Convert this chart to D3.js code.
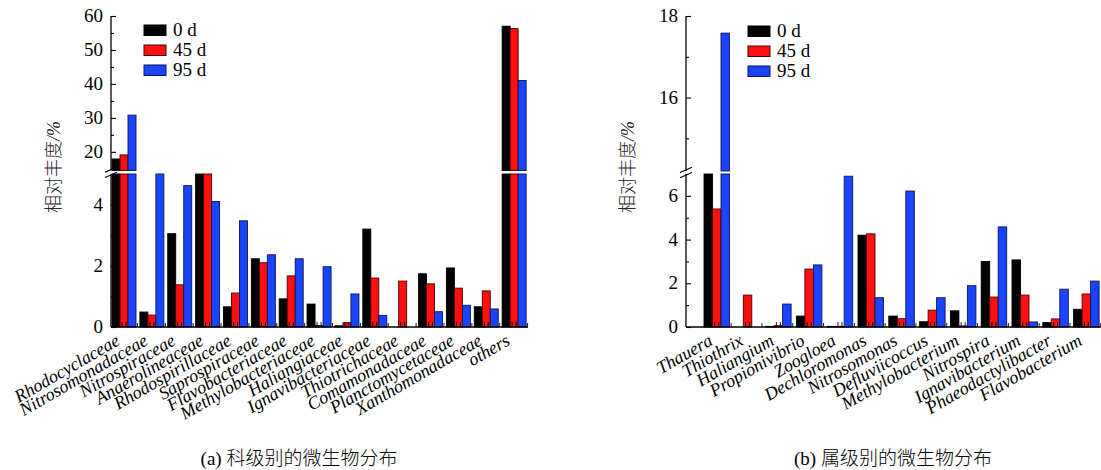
<!DOCTYPE html>
<html>
<head>
<meta charset="utf-8">
<script src="https://cdn.jsdelivr.net/npm/d3@7"></script>
<style>
  html, body { margin: 0; padding: 0; background: #fff; }
  svg { display: block; }
</style>
</head>
<body>
<svg id="chart" width="1101" height="470"></svg>
<script>
// ---- (a) family level ----
const famCats = ["Rhodocyclaceae", "Nitrosomonadaceae", "Nitrospiraceae", "Anaerolineaceae",
  "Rhodospirillaceae", "Saprospiraceae", "Flavobacteriaceae", "Methylobacteriaceae",
  "Haliangiaceae", "Ignavibacteriaceae", "Thiotrichaceae", "Comamonadaceae",
  "Planctomycetaceae", "Xanthomonadaceae", "others"];
const famDay0  = [17.9, 0.49, 3.05, 6.8, 0.66, 2.23, 0.92, 0.75, 0.04, 3.2, 0, 1.74, 1.93, 0.66, 57.0];
const famDay45 = [19.1, 0.39, 1.38, 6.6, 1.11, 2.10, 1.67, 0.05, 0.14, 1.6, 1.5, 1.41, 1.27, 1.18, 56.3];
const famDay95 = [30.8, 7.5, 4.62, 4.1, 3.47, 2.36, 2.23, 1.97, 1.08, 0.38, 0, 0.50, 0.71, 0.59, 41.0];
const famTicksTop = [20, 30, 40, 50, 60];
const famTicksBottom = [0, 2, 4];

// ---- (b) genus level ----
const genCats = ["Thauera", "Thiothrix", "Haliangium", "Propionivibrio", "Zoogloea",
  "Dechloromonas", "Nitrosomonas", "Defluviicoccus", "Methylobacterium", "Nitrospira",
  "Ignavibacterium", "Phaeodactylibacter", "Flavobacterium"];
const genDay0  = [10.0, 0, 0.03, 0.50, 0.03, 4.20, 0.50, 0.24, 0.74, 3.00, 3.07, 0.20, 0.81];
const genDay45 = [5.40, 1.46, 0.06, 2.65, 0.03, 4.26, 0.38, 0.77, 0.05, 1.37, 1.46, 0.37, 1.51];
const genDay95 = [17.58, 0, 1.05, 2.84, 6.90, 1.34, 6.22, 1.34, 1.89, 4.58, 0.23, 1.73, 2.10];
const genTicksTop = [16, 18];
const genTicksBottom = [0, 2, 4, 6];

const seriesNames = ["0 d", "45 d", "95 d"];
const seriesFill = ["#000000", "#ff1010", "#1a44ff"];
const seriesStroke = ["#000000", "#4a0000", "#0a1750"];

const captionTags = ["(a) ", "(b) "];
const captions = ["科级别的微生物分布", "属级别的微生物分布"];
const yTitle = "相对丰度";

const SERIF = "'Liberation Serif', 'Times New Roman', 'DejaVu Serif', serif";
const CJK = "'Noto Sans CJK SC', sans-serif";

const svg = d3.select("#chart");

function serifText(sel, size, italic) {
  return sel.attr("font-family", SERIF).attr("font-size", size)
    .attr("font-style", italic ? "italic" : "normal").attr("fill", "#000");
}

function drawPanel(p) {
  const g = svg.append("g");
  const x = d3.scaleBand().domain(p.cats).range(p.xRange).paddingInner(0).paddingOuter(0);
  const yTop = d3.scaleLinear().domain(p.topDomain).range([p.breakTop, p.plotTop]);
  const yBot = d3.scaleLinear().domain(p.botDomain).range([p.baseY, p.breakBottom]);
  const topMin = p.topDomain[0], botMax = p.botDomain[1];

  const rows = p.cats.map((c, i) => ({ cat: c, vals: p.series.map(s => s[i]) }));

  // bars: lower segment clipped at the break, upper segment drawn when the value exceeds the upper range
  rows.forEach(r => {
    r.vals.forEach((v, k) => {
      const bx = x(r.cat) + p.barOffset + k * p.barW;
      if (v <= 0) return;
      const vb = Math.min(v, botMax);
      g.append("rect")
        .attr("x", bx).attr("width", p.barW)
        .attr("y", yBot(vb)).attr("height", yBot(0) - yBot(vb))
        .attr("fill", seriesFill[k]).attr("stroke", seriesStroke[k]).attr("stroke-width", 0.9);
      if (v > topMin) {
        g.append("rect")
          .attr("x", bx).attr("width", p.barW)
          .attr("y", yTop(v)).attr("height", yTop(topMin) - yTop(v))
          .attr("fill", seriesFill[k]).attr("stroke", seriesStroke[k]).attr("stroke-width", 0.9);
      }
    });
  });

  // x axis baseline
  g.append("line").attr("x1", p.axisX).attr("x2", p.xAxisEnd)
    .attr("y1", p.baseY).attr("y2", p.baseY).attr("stroke", "#000").attr("stroke-width", 1.3);

  // small upward ticks: inside each middle bar and between groups
  p.cats.forEach((c, i) => {
    const gx = x(c) + p.barOffset;
    const mid = gx + p.barW * 1.5;
    [mid - 2, mid + 2].forEach(tx => {
      g.append("line").attr("x1", tx).attr("x2", tx).attr("y1", p.baseY).attr("y2", p.baseY - 5)
        .attr("stroke", "#000").attr("stroke-width", 0.9);
    });
    const sep = x(c) + x.step() - (x.step() - 3 * p.barW - p.barOffset) / 2;
    if (i < p.cats.length - 1 || sep < p.xAxisEnd) {
      g.append("line").attr("x1", sep).attr("x2", sep).attr("y1", p.baseY).attr("y2", p.baseY - 4)
        .attr("stroke", "#000").attr("stroke-width", 0.9);
    }
  });

  // category labels
  p.cats.forEach(c => {
    const cx = x(c) + p.barOffset + p.barW * 1.5 - 3;
    serifText(g.append("text"), "18px", true)
      .attr("transform", `translate(${cx},${p.baseY + 17}) rotate(-30)`)
      .attr("text-anchor", "end")
      .text(c);
  });

  // y axis: two segments with inward ticks
  const axTop = d3.axisRight(yTop).tickValues(p.topTicks).tickSize(5).tickFormat("");
  const axBot = d3.axisRight(yBot).tickValues(p.botTicks).tickSize(5).tickFormat("");
  const mTop = d3.axisRight(yTop).tickValues(p.topMinor).tickSize(3).tickFormat("");
  const mBot = d3.axisRight(yBot).tickValues(p.botMinor).tickSize(3).tickFormat("");
  [axTop, axBot, mTop, mBot].forEach(ax => {
    const a = g.append("g").attr("transform", `translate(${p.axisX},0)`).call(ax);
    a.select(".domain").remove();
    a.selectAll("line").attr("stroke", "#000").attr("stroke-width", 1.1);
  });
  g.append("line").attr("x1", p.axisX).attr("x2", p.axisX)
    .attr("y1", p.plotTop).attr("y2", p.breakTop).attr("stroke", "#000").attr("stroke-width", 1.3);
  g.append("line").attr("x1", p.axisX).attr("x2", p.axisX)
    .attr("y1", p.breakBottom).attr("y2", p.baseY).attr("stroke", "#000").attr("stroke-width", 1.3);

  // tick labels
  p.topTicks.forEach(t => serifText(g.append("text"), "19px", false).attr("text-anchor", "end")
    .attr("x", p.axisX - 8).attr("y", yTop(t) + 6).text(t));
  p.botTicks.forEach(t => serifText(g.append("text"), "19px", false).attr("text-anchor", "end")
    .attr("x", p.axisX - 8).attr("y", yBot(t) + 6).text(t));

  // break marks
  const bm = (p.breakTop + p.breakBottom) / 2;
  [-2.6, 2.6].forEach(d => {
    g.append("line")
      .attr("x1", p.axisX - 6).attr("y1", bm + d + 2.7)
      .attr("x2", p.axisX + 6).attr("y2", bm + d - 2.7)
      .attr("stroke", "#000").attr("stroke-width", 1.1);
  });

  // y title
  const yt = g.append("text").attr("font-family", CJK).attr("font-size", "18px").attr("fill", "#222")
    .attr("font-weight", 300)
    .attr("transform", `translate(${p.yTitleX},${p.yTitleY}) rotate(-90)`)
    .attr("text-anchor", "middle");
  yt.append("tspan").text(yTitle);
  yt.append("tspan").attr("font-family", SERIF).attr("font-style", "italic").text("/%");

  // legend
  seriesNames.forEach((n, k) => {
    const ly = p.legendY + k * 20;
    g.append("rect").attr("x", p.legendX).attr("y", ly - 5).attr("width", 22).attr("height", 10.5)
      .attr("fill", seriesFill[k]).attr("stroke", seriesStroke[k]).attr("stroke-width", 1);
    serifText(g.append("text"), "19px", false).attr("x", p.legendX + 29).attr("y", ly + 6).text(n);
  });

  // caption
  const cap = g.append("text").attr("font-size", "19px").attr("fill", "#000")
    .attr("x", p.captionX).attr("y", 465).attr("text-anchor", "middle");
  cap.append("tspan").attr("font-family", SERIF).text(p.captionTag);
  cap.append("tspan").attr("font-family", CJK).attr("font-weight", 300).text(p.caption);
}

drawPanel({
  cats: famCats, series: [famDay0, famDay45, famDay95],
  xRange: [111, 529], barOffset: 1, barW: 8,
  axisX: 111, xAxisEnd: 528, baseY: 327, plotTop: 16,
  breakTop: 170.5, breakBottom: 174,
  topDomain: [14.5, 60], botDomain: [0, 5],
  topTicks: famTicksTop, botTicks: famTicksBottom,
  topMinor: [25, 35, 45, 55], botMinor: [1, 3],
  yTitleX: 60, yTitleY: 167,
  legendX: 144, legendY: 30,
  captionTag: captionTags[0], caption: captions[0], captionX: 299
});

drawPanel({
  cats: genCats, series: [genDay0, genDay45, genDay95],
  xRange: [702, 702 + 13 * 30.8], barOffset: 2, barW: 8.5,
  axisX: 686, xAxisEnd: 1101, baseY: 327, plotTop: 16,
  breakTop: 171, breakBottom: 174,
  topDomain: [14.2, 18], botDomain: [0, 7],
  topTicks: genTicksTop, botTicks: genTicksBottom,
  topMinor: [15, 17], botMinor: [1, 3, 5],
  yTitleX: 634, yTitleY: 167,
  legendX: 748, legendY: 31,
  captionTag: captionTags[1], caption: captions[1], captionX: 893
});
</script>
</body>
</html>
